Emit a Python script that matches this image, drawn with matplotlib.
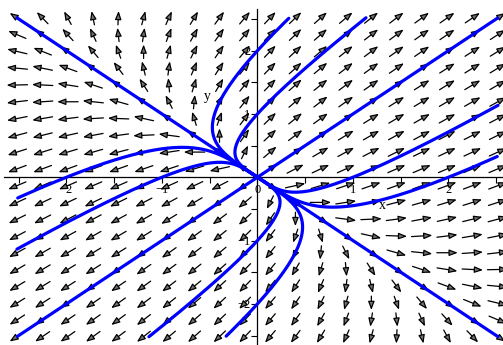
import numpy as np
import matplotlib
matplotlib.use("Agg")
import matplotlib.pyplot as plt
from matplotlib.patches import FancyArrowPatch

# linear system  x' = a*x + b*y,  y' = b*x + a*y
coef_a = 2.5
coef_b = 1.5

# initial conditions of the drawn solution curves
init_x = [1, -1, 1, -1, 0, 0, 0, 0, 1, 2, -1, -2]
init_y = [1, -1, -1, 1, 1, 2, -1, -2, 0, 0, 0, 0]

x_ticks = [-2, -1, 0, 1, 2]
y_ticks = [-2, -1, 1, 2]

view = 2.65      # extent of the arrow field and axes
box = 2.52       # solution curves are cut off here
n_grid = 20


def flow(x0, y0, t):
    # exact solution through the eigen-decomposition of the system matrix
    A = np.array([[coef_a, coef_b], [coef_b, coef_a]])
    lam, P = np.linalg.eig(A)
    c = np.linalg.solve(P, np.array([x0, y0], dtype=float))
    sol = P @ (c[:, None] * np.exp(np.outer(lam, t)))
    return sol[0], sol[1]


def main():
    fig = plt.figure(figsize=(5.03, 3.45), dpi=100)
    ax = fig.add_axes([0, 0, 1, 1])
    ax.set_xlim(-2.696, 2.571)
    ax.set_ylim(-2.65, 2.80)

    # direction field
    g = -view + (np.arange(n_grid) + 0.5) * (2 * view / n_grid)
    gx, gy = np.meshgrid(g, g)
    u = coef_a * gx + coef_b * gy
    v = coef_b * gx + coef_a * gy
    norm = np.hypot(u, v)
    L = 0.22
    u = u / norm * L
    v = v / norm * L
    for px, py, du, dv in zip(gx.ravel(), gy.ravel(), u.ravel(), v.ravel()):
        ar = FancyArrowPatch((px - du / 2, py - dv / 2), (px + du / 2, py + dv / 2),
                             arrowstyle='-|>,head_length=0.5,head_width=0.19',
                             mutation_scale=10, shrinkA=0, shrinkB=0,
                             lw=0.9, ec='black', fc='0.45', zorder=3)
        ax.add_patch(ar)

    # solution curves, integrated backward and forward from each point
    t = np.linspace(-9, 2, 6000)
    for x0, y0 in zip(init_x, init_y):
        xs, ys = flow(x0, y0, t)
        out = (np.abs(xs) > box) | (np.abs(ys) > box)
        xs = np.where(out, np.nan, xs)
        ys = np.where(out, np.nan, ys)
        ax.plot(xs, ys, color='#0000ff', lw=2.3, solid_capstyle='round', zorder=4)

    # axes through the origin
    for side in ['top', 'right']:
        ax.spines[side].set_visible(False)
    ax.spines['left'].set_position(('data', 0))
    ax.spines['bottom'].set_position(('data', 0))
    ax.spines['left'].set_bounds(-view, view)
    ax.spines['bottom'].set_bounds(-view, view)
    for side in ['left', 'bottom']:
        ax.spines[side].set_linewidth(0.9)
        ax.spines[side].set_zorder(2)

    serif = ['Liberation Serif', 'DejaVu Serif']
    ax.set_xticks(x_ticks)
    ax.set_xticklabels([str(k).replace('-', '\u2212') for k in x_ticks],
                       family=serif, fontsize=9)
    ax.set_yticks(y_ticks)
    ax.set_yticklabels([str(k).replace('-', '\u2212') for k in y_ticks],
                       family=serif, fontsize=9)
    ax.set_xticks(np.arange(-2.5, 2.51, 0.5), minor=True)
    ax.set_yticks(np.arange(-2.5, 2.51, 0.5), minor=True)
    ax.tick_params(which='both', direction='out', length=4, width=0.8, pad=1)

    ax.text(1.31, -0.44, 'x', family=serif, fontsize=10, ha='center', va='center')
    ax.text(-0.52, 1.27, 'y', family=serif, fontsize=10, ha='center', va='center')

    fig.savefig('out.png', dpi=100)


if __name__ == "__main__":
    main()
